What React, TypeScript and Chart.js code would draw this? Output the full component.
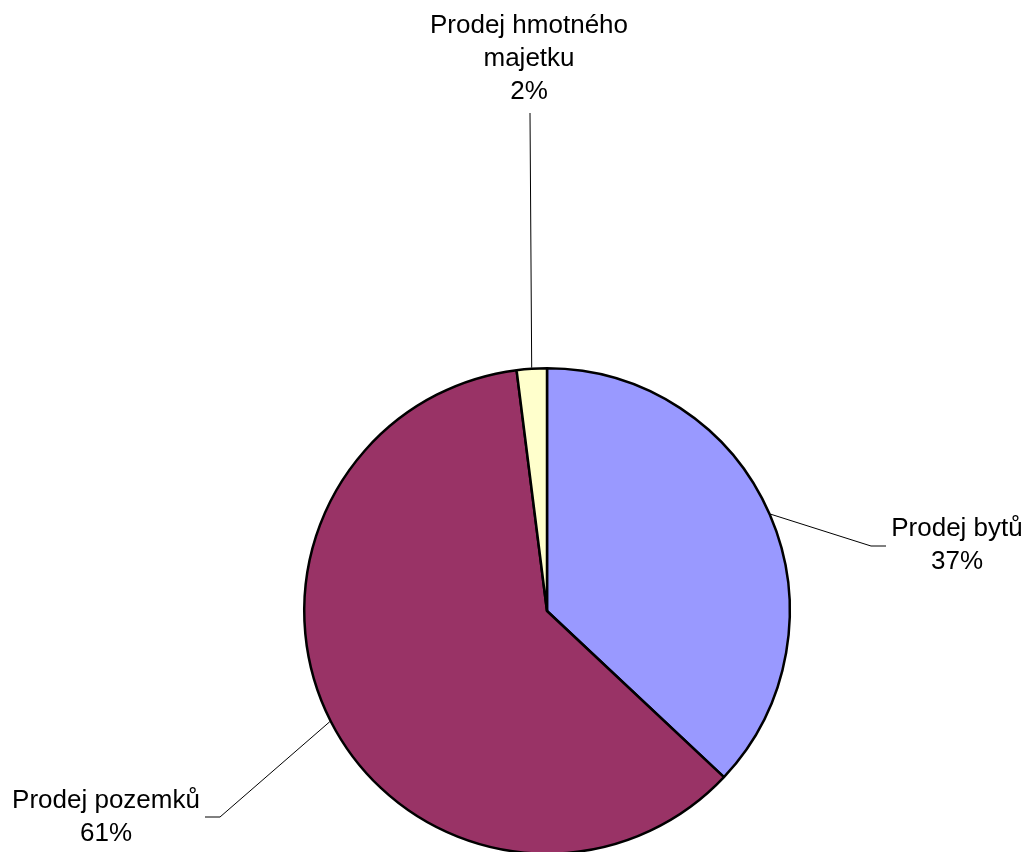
import React, { useEffect, useRef } from "react";
import { Chart, registerables } from "chart.js";

Chart.register(...registerables);

const categories = ["Prodej bytů", "Prodej pozemků", "Prodej hmotného majetku"];
const values = [37, 61, 2];
const colors = ["#9999FF", "#993366", "#FFFFCC"];

// label layout: elbow point, end of horizontal leader, text center x and first baseline
const labelLayout = [
  { elbow: [871, 546], end: [886, 546], textX: 957, baseline: 536 },
  { elbow: [220, 817], end: [205, 817], textX: 106, baseline: 808 },
  { elbow: [530, 113], end: [530, 113], textX: 529, baseline: 33 },
];

const FONT = '26px "Liberation Sans", Arial, sans-serif';
const LINE_H = 33;
const WRAP = 210;

function wrapText(ctx: CanvasRenderingContext2D, text: string): string[] {
  const words = text.split(" ");
  const lines: string[] = [];
  let cur = "";
  for (const w of words) {
    const t = cur ? cur + " " + w : w;
    if (ctx.measureText(t).width > WRAP && cur) {
      lines.push(cur);
      cur = w;
    } else cur = t;
  }
  if (cur) lines.push(cur);
  return lines;
}

const labelPlugin = {
  id: "pieLabels",
  afterDatasetsDraw(chart: any) {
    const ctx: CanvasRenderingContext2D = chart.ctx;
    const meta = chart.getDatasetMeta(0);
    const data: number[] = chart.data.datasets[0].data;
    const total = data.reduce((a, b) => a + b, 0);
    ctx.save();
    ctx.font = FONT;
    ctx.fillStyle = "#000";
    ctx.textAlign = "center";
    ctx.textBaseline = "alphabetic";
    meta.data.forEach((arc: any, i: number) => {
      const p = arc.getProps(["x", "y", "startAngle", "endAngle", "outerRadius"], true);
      const mid = (p.startAngle + p.endAngle) / 2;
      const r = p.outerRadius + 1;
      const sx = p.x + Math.cos(mid) * r;
      const sy = p.y + Math.sin(mid) * r;
      const L = labelLayout[i];
      ctx.beginPath();
      ctx.strokeStyle = "#000";
      ctx.lineWidth = 1;
      ctx.moveTo(sx, sy);
      ctx.lineTo(L.elbow[0], L.elbow[1]);
      ctx.lineTo(L.end[0], L.end[1]);
      ctx.stroke();
      const lines = wrapText(ctx, chart.data.labels[i]);
      lines.push(Math.round((data[i] / total) * 100) + "%");
      lines.forEach((ln, k) => {
        ctx.fillText(ln, L.textX, L.baseline + k * LINE_H);
      });
    });
    ctx.restore();
  },
};

export default function App() {
  const ref = useRef<HTMLCanvasElement | null>(null);
  useEffect(() => {
    if (!ref.current) return;
    const chart = new Chart(ref.current, {
      type: "pie",
      data: {
        labels: categories,
        datasets: [
          {
            data: values,
            backgroundColor: colors,
            borderColor: "#000",
            borderWidth: 2.5,
          },
        ],
      },
      options: {
        responsive: false,
        animation: false,
        layout: { padding: { left: 303, right: 236, top: 367, bottom: 45 } },
        plugins: {
          legend: { display: false },
          tooltip: { enabled: false },
        },
      },
      plugins: [labelPlugin],
    });
    return () => chart.destroy();
  }, []);
  return (
    <div style={{ position: "fixed", left: 0, top: 0, width: 1027, height: 900, overflow: "hidden", background: "#fff" }}>
      <canvas ref={ref} width={1027} height={900} style={{ width: 1027, height: 900 }} />
    </div>
  );
}
